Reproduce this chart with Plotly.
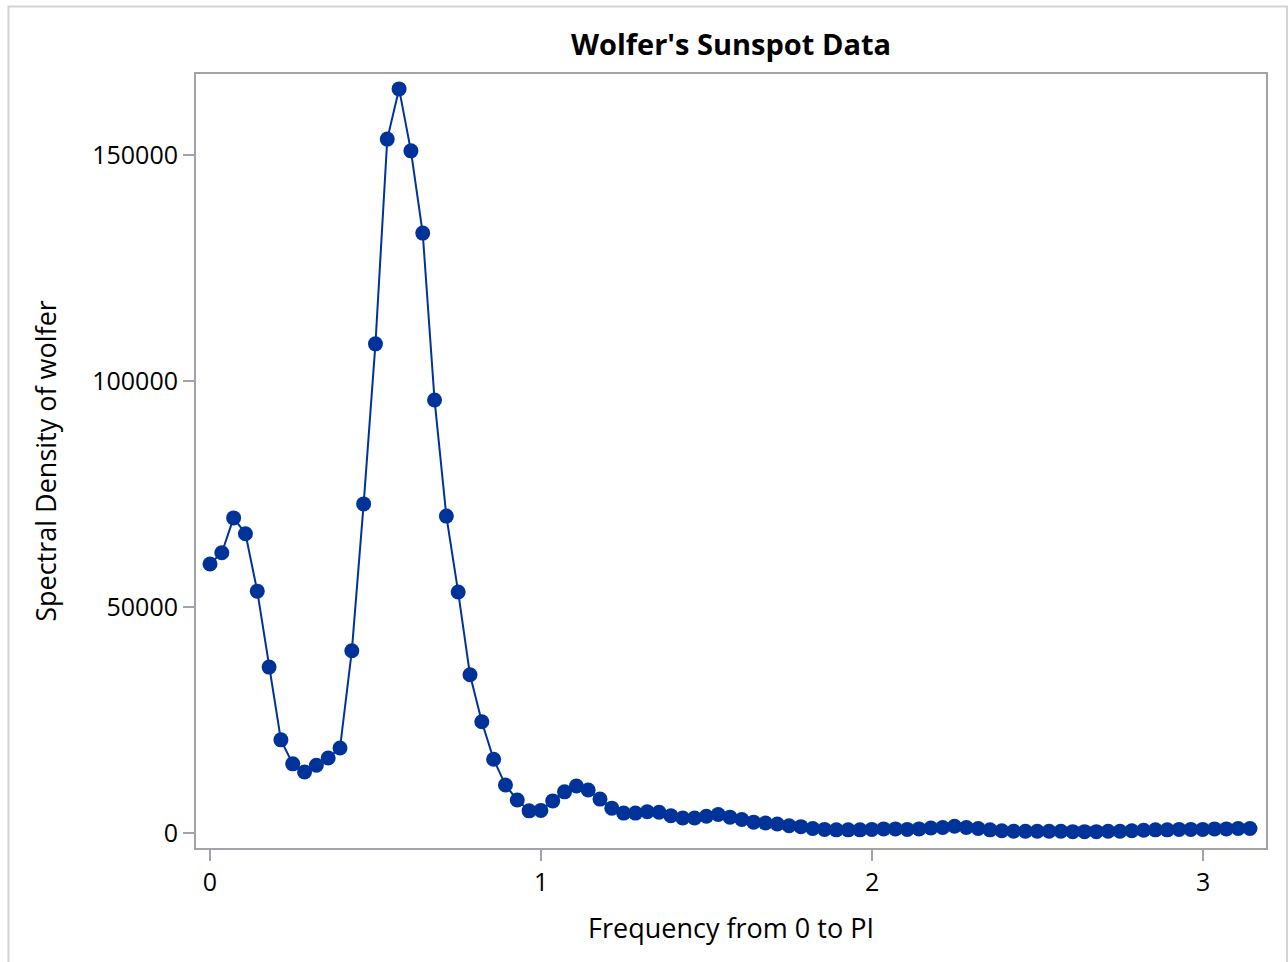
import plotly.graph_objects as go

freq = [0.0000, 0.0357, 0.0714, 0.1071, 0.1428, 0.1785, 0.2142, 0.2499, 0.2856, 0.3213,
        0.3570, 0.3927, 0.4284, 0.4641, 0.4998, 0.5355, 0.5712, 0.6069, 0.6426, 0.6783,
        0.7140, 0.7497, 0.7854, 0.8211, 0.8568, 0.8925, 0.9282, 0.9639, 0.9996, 1.0353,
        1.0710, 1.1067, 1.1424, 1.1781, 1.2138, 1.2495, 1.2852, 1.3209, 1.3566, 1.3923,
        1.4280, 1.4637, 1.4994, 1.5351, 1.5708, 1.6065, 1.6422, 1.6779, 1.7136, 1.7493,
        1.7850, 1.8207, 1.8564, 1.8921, 1.9278, 1.9635, 1.9992, 2.0349, 2.0706, 2.1063,
        2.1420, 2.1777, 2.2134, 2.2491, 2.2848, 2.3205, 2.3562, 2.3919, 2.4276, 2.4633,
        2.4990, 2.5347, 2.5704, 2.6061, 2.6418, 2.6775, 2.7132, 2.7489, 2.7846, 2.8203,
        2.8560, 2.8917, 2.9274, 2.9631, 2.9988, 3.0345, 3.0702, 3.1059, 3.1416]

density = [59500, 62000, 69700, 66200, 53500, 36700, 20600, 15300, 13500, 15000,
           16600, 18800, 40300, 72800, 108200, 153500, 164600, 150900, 132700, 95800,
           70100, 53300, 35000, 24600, 16300, 10600, 7300, 4900, 5000, 7100,
           9100, 10400, 9500, 7500, 5500, 4400, 4400, 4700, 4600, 3800,
           3300, 3300, 3700, 4100, 3500, 3000, 2400, 2200, 2000, 1600,
           1400, 1000, 800, 700, 700, 700, 800, 900, 900, 800,
           900, 1100, 1200, 1500, 1200, 1000, 700, 500, 400, 400,
           400, 400, 400, 300, 300, 300, 400, 400, 500, 600,
           700, 700, 800, 800, 800, 900, 900, 1000, 1000]

x_ticks = [0, 1, 2, 3]
y_ticks = [0, 50000, 100000, 150000]

title_text = "Wolfer's Sunspot Data"
x_title = "Frequency from 0 to PI"
y_title = "Spectral Density of wolfer"

color = "#003399"
axis_color = "#A0A4A8"
font_family = "Open Sans"

fig = go.Figure()
fig.add_trace(go.Scatter(
    x=freq, y=density, mode="lines+markers",
    line=dict(color=color, width=2),
    marker=dict(color=color, size=15, line=dict(width=0)),
    showlegend=False,
))

fig.update_layout(
    width=1288, height=962,
    margin=dict(l=196, r=22, t=74, b=114),
    paper_bgcolor="white", plot_bgcolor="white",
    font=dict(family=font_family, color="black", size=25),
    title=dict(text="<b>" + title_text + "</b>", x=(196 + 1266) / 2 / 1288, xanchor="center",
               y=1 - 45 / 962, yanchor="middle",
               font=dict(family=font_family, size=29, color="black")),
    xaxis=dict(
        range=[-0.0423, 3.190], tickmode="array", tickvals=x_ticks,
        ticktext=[str(v) for v in x_ticks],
        showgrid=False, zeroline=False,
        showline=True, linecolor=axis_color, linewidth=2, mirror=True,
        ticks="outside", ticklen=11, tickwidth=1.5, tickcolor=axis_color,
        tickfont=dict(size=25), title=dict(text=x_title, font=dict(size=27), standoff=22),
    ),
    yaxis=dict(
        range=[-3320, 167900], tickmode="array", tickvals=y_ticks,
        ticktext=[str(v) for v in y_ticks],
        showgrid=False, zeroline=False,
        showline=True, linecolor=axis_color, linewidth=2, mirror=True,
        ticks="outside", ticklen=11, tickwidth=1.5, tickcolor=axis_color,
        tickfont=dict(size=25), title=dict(text=y_title, font=dict(size=27), standoff=28),
    ),
    shapes=[dict(type="rect", xref="paper", yref="paper",
                 x0=(8.5 - 196) / 1070, x1=(1287 - 196) / 1070,
                 y0=(848 - 990) / 774, y1=(848 - 6.5) / 774,
                 line=dict(color="#D3D3D3", width=2), fillcolor="rgba(0,0,0,0)", layer="below")],
)

fig.write_html("out.html")
